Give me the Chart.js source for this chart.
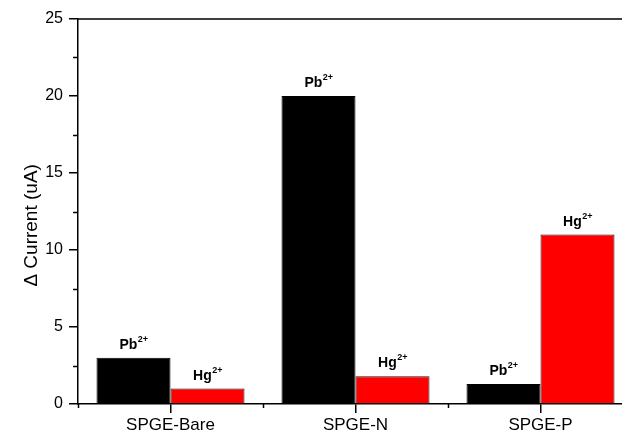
<!DOCTYPE html>
<html>
<head>
<meta charset="utf-8">
<script src="https://cdn.jsdelivr.net/npm/chart.js@4/dist/chart.umd.min.js"></script>
<style>
  html, body { margin: 0; padding: 0; background: #fff; overflow: hidden; }
  .main-chart { width: 640px; height: 437px; }
</style>
</head>
<body>
<div class="main-chart"><canvas id="myChart" width="640" height="437"></canvas></div>
<script>
const electrodes = ['SPGE-Bare', 'SPGE-N', 'SPGE-P'];
const pbCurrent = [3, 20, 1.3];
const hgCurrent = [1, 1.8, 11];
const yMajorTicks = [0, 5, 10, 15, 20, 25];
const yMinorTicks = [2.5, 7.5, 12.5, 17.5, 22.5];
const yTitle = '\u0394 Current (uA)';

const FONT = '"Liberation Sans", Arial, sans-serif';

// frame on top/right, minor ticks and the y title (sits a bit below centre)
const axisExtras = {
  id: 'axisExtras',
  afterDraw(chart) {
    const { ctx, chartArea: a, scales: { x, y } } = chart;
    ctx.save();
    ctx.strokeStyle = '#000';
    ctx.lineWidth = 1.5;
    ctx.beginPath();
    ctx.moveTo(a.left, a.top);
    ctx.lineTo(a.right, a.top);
    ctx.lineTo(a.right, a.bottom);
    ctx.stroke();

    ctx.beginPath();
    yMinorTicks.forEach(v => {
      const py = Math.round(y.getPixelForValue(v)) + 0.5;
      ctx.moveTo(a.left - 5, py);
      ctx.lineTo(a.left, py);
    });
    for (let i = -0.5; i < electrodes.length; i++) {
      const px = Math.round(x.getPixelForValue(i)) + 0.5;
      ctx.moveTo(px, a.bottom);
      ctx.lineTo(px, a.bottom + 4);
    }
    ctx.stroke();

    ctx.translate(32, y.getPixelForValue(11.6));
    ctx.rotate(-Math.PI / 2);
    ctx.font = '19px ' + FONT;
    ctx.fillStyle = '#000';
    ctx.textAlign = 'center';
    ctx.textBaseline = 'middle';
    ctx.fillText(yTitle, 0, 0);
    ctx.restore();
  }
};

// ion name with 2+ superscript above each bar
const ionLabels = {
  id: 'ionLabels',
  afterDatasetsDraw(chart) {
    const ctx = chart.ctx;
    ctx.save();
    ctx.fillStyle = '#000';
    ctx.textBaseline = 'alphabetic';
    ctx.textAlign = 'left';
    chart.data.datasets.forEach((ds, i) => {
      chart.getDatasetMeta(i).data.forEach(bar => {
        ctx.font = 'bold 14px ' + FONT;
        const w1 = ctx.measureText(ds.label).width;
        ctx.font = 'bold 9px ' + FONT;
        const w2 = ctx.measureText('2+').width;
        const x0 = bar.x - (w1 + w2) / 2;
        const yb = bar.y - 9;
        ctx.font = 'bold 14px ' + FONT;
        ctx.fillText(ds.label, x0, yb);
        ctx.font = 'bold 9px ' + FONT;
        ctx.fillText('2+', x0 + w1 + 0.5, yb - 7);
      });
    });
    ctx.restore();
  }
};

const ctx = document.getElementById('myChart').getContext('2d');
new Chart(ctx, {
  type: 'bar',
  data: {
    labels: electrodes,
    datasets: [
      {
        label: 'Pb',
        data: pbCurrent,
        backgroundColor: '#000000',
        borderColor: '#000000',
        borderWidth: 1,
        categoryPercentage: 0.8,
        barPercentage: 1.0
      },
      {
        label: 'Hg',
        data: hgCurrent,
        backgroundColor: '#FF0000',
        borderColor: '#1a1a1a',
        borderWidth: 1,
        categoryPercentage: 0.8,
        barPercentage: 1.0
      }
    ]
  },
  plugins: [axisExtras, ionLabels],
  options: {
    responsive: false,
    animation: false,
    layout: { padding: { top: 19, right: 7, left: 0, bottom: 0 } },
    plugins: {
      legend: { display: false },
      tooltip: { enabled: false }
    },
    scales: {
      x: {
        afterFit: s => { s.height = 33; },
        border: { color: '#000', width: 1.5 },
        grid: {
          offset: false,
          drawOnChartArea: false,
          tickLength: 9,
          color: '#000',
          lineWidth: 1.5
        },
        ticks: {
          color: '#000',
          padding: 2,
          font: { family: FONT, size: 17 }
        }
      },
      y: {
        min: 0,
        max: 25,
        afterFit: s => { s.width = 78; },
        afterBuildTicks: s => { s.ticks = yMajorTicks.map(v => ({ value: v })); },
        border: { color: '#000', width: 1.5 },
        grid: {
          drawOnChartArea: false,
          tickLength: 9,
          color: '#000',
          lineWidth: 1.5
        },
        ticks: {
          color: '#000',
          padding: 6,
          font: { family: FONT, size: 16 }
        }
      }
    }
  }
});
</script>
</body>
</html>
